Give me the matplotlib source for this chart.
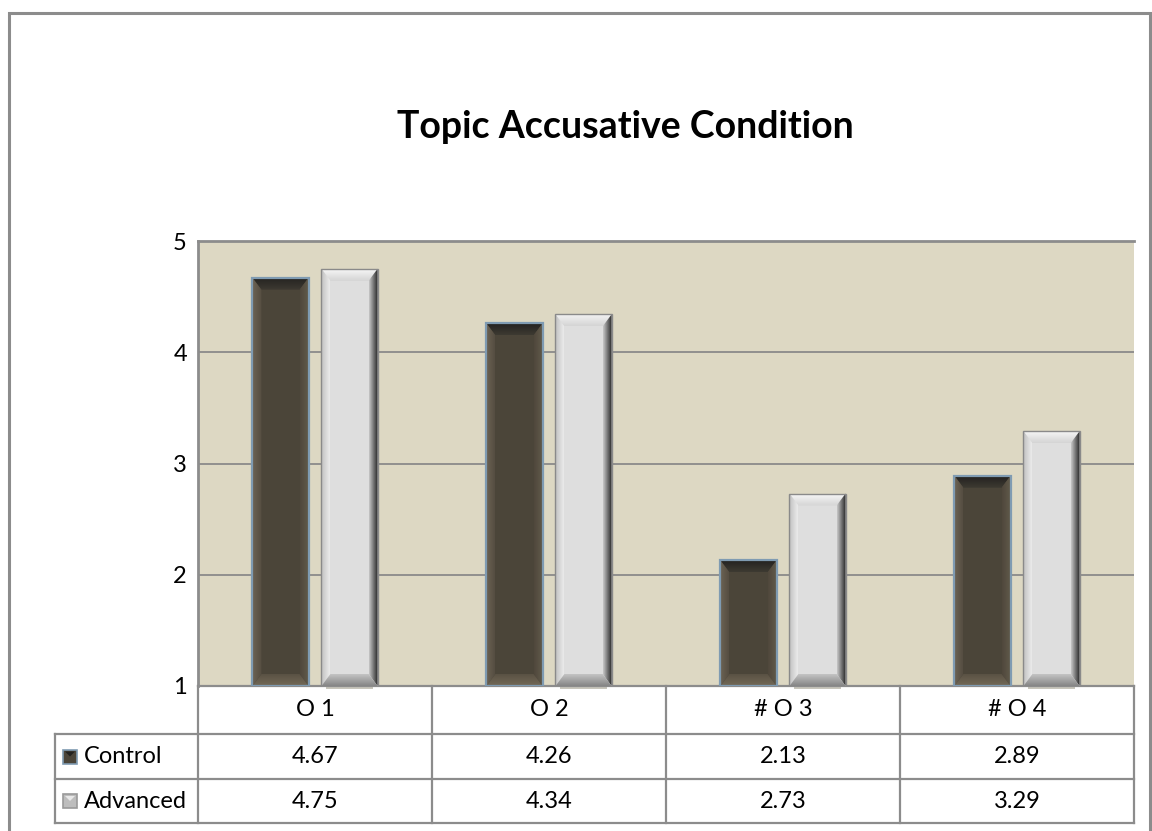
import numpy as np
import matplotlib
matplotlib.use("Agg")
import matplotlib.pyplot as plt
from matplotlib.patches import Polygon, Rectangle
from matplotlib.lines import Line2D
from matplotlib.colors import LinearSegmentedColormap

plt.rcParams['font.family'] = ['Lato', 'DejaVu Sans']

# данные
categories = ['O 1', 'O 2', '# O 3', '# O 4']
series = ['Control', 'Advanced']
control = [4.67, 4.26, 2.13, 2.89]
advanced = [4.75, 4.34, 2.73, 3.29]
yticks = [1, 2, 3, 4, 5]

W, H = 1152, 831
fs = 17
fig = plt.figure(figsize=(W / 100, H / 100), dpi=100)

# внешняя рамка
fig.patches.append(Rectangle((9 / W, -0.05), 1141 / W, 1.05 - 13 / H,
                             transform=fig.transFigure, fill=False,
                             edgecolor='#8c8c8c', linewidth=2.2))

fig.text(625 / W, 1 - 127 / H, 'Topic Accusative Condition', ha='center', va='center',
         fontsize=27, fontweight='bold')

left, right, top, bottom = 198, 1134, 241, 686
ax = fig.add_axes([left / W, 1 - bottom / H, (right - left) / W, (bottom - top) / H])
ax.set_facecolor('#ddd8c3')
ax.set_xlim(-0.5, 3.5)
ax.set_ylim(1, 5)

for sp in ['right', 'bottom']:
    ax.spines[sp].set_visible(False)
for sp in ['top', 'left']:
    ax.spines[sp].set_color('#8c8c8c')
    ax.spines[sp].set_linewidth(2)

ax.set_xticks([])
ax.set_yticks(yticks)
ax.set_yticklabels([str(t) for t in yticks], fontsize=fs)
ax.tick_params(axis='y', length=0, pad=8)
for t in yticks[1:-1]:
    ax.axhline(t, color='#8a8a8a', linewidth=1.3, zorder=1)

px_x = 4.0 / (right - left)
px_y = 4.0 / (bottom - top)
dx, dy = 9 * px_x, 12 * px_y


def grad(verts, c0, c1, horizontal, z):
    poly = Polygon(verts, closed=True, facecolor='none', edgecolor='none')
    ax.add_patch(poly)
    xs = [v[0] for v in verts]
    ys = [v[1] for v in verts]
    cmap = LinearSegmentedColormap.from_list('g', [c0, c1])
    arr = np.linspace(0, 1, 64)
    arr = arr.reshape(1, -1) if horizontal else arr.reshape(-1, 1)
    im = ax.imshow(arr, cmap=cmap, extent=(min(xs), max(xs), min(ys), max(ys)),
                   origin='lower', aspect='auto', interpolation='bilinear', zorder=z)
    im.set_clip_path(poly)


def bevel_bar(xc, val, w, style):
    x0, x1, y0, y1 = xc - w / 2, xc + w / 2, 1.0, val
    top_p = [(x0, y1), (x1, y1), (x1 - dx, y1 - dy), (x0 + dx, y1 - dy)]
    left_p = [(x0, y0), (x0, y1), (x0 + dx, y1 - dy), (x0 + dx, y0 + dy)]
    right_p = [(x1, y0), (x1, y1), (x1 - dx, y1 - dy), (x1 - dx, y0 + dy)]
    bot_p = [(x0, y0), (x1, y0), (x1 - dx, y0 + dy), (x0 + dx, y0 + dy)]
    if style == 'dark':
        ax.bar(xc, val - 1, w, bottom=1, color='#4b4539', edgecolor='none', zorder=3)
        grad(top_p, '#3e3a32', '#232220', False, 4)
        grad(left_p, '#6d6455', '#554d41', True, 4)
        grad(right_p, '#4f483c', '#625a4b', True, 4)
        grad(bot_p, '#736957', '#5a5244', False, 4)
        ax.add_patch(Rectangle((x0, y0), w, y1 - y0, fill=False,
                               edgecolor='#7f9bb2', linewidth=1.6, zorder=5))
    else:
        # тень под светлым столбцом
        ax.add_patch(Rectangle((x0 + dx / 2, y0 - 3 * px_y), w - dx, 3 * px_y,
                               facecolor='#c8c6bc', edgecolor='none', zorder=2,
                               clip_on=False))
        ax.bar(xc, val - 1, w, bottom=1, color='#dedede', edgecolor='none', zorder=3)
        grad(top_p, '#d4d4d4', '#f6f6f6', False, 4)
        grad(left_p, '#c0c0c0', '#ebebeb', True, 4)
        grad(right_p, '#c8c8c8', '#262626', True, 4)
        grad(bot_p, '#858585', '#c4c4c4', False, 4)
        ax.add_patch(Rectangle((x0, y0), w, y1 - y0, fill=False,
                               edgecolor='#8a8a8a', linewidth=1.0, zorder=5))


bw = 0.24
off = 0.1475
x = np.arange(len(categories))
for i in range(len(categories)):
    bevel_bar(x[i] - off, control[i], bw, 'dark')
    bevel_bar(x[i] + off, advanced[i], bw, 'light')

ax.set_xlim(-0.5, 3.5)
ax.set_ylim(1, 5)

# таблица данных под графиком
ah = bottom - top
def ty(py):
    return (bottom - py) / ah

def tx(px):
    return (px - left) / (right - left)

row_y = [686, 734, 779, 823]
lab_x = 55
lc = '#8c8c8c'
lw = 1.6
kw = dict(transform=ax.transAxes, clip_on=False, color=lc, linewidth=lw)
# горизонтальные линии
ax.add_line(Line2D([0, 1], [ty(row_y[0])] * 2, **kw))
for yy in row_y[1:]:
    ax.add_line(Line2D([tx(lab_x), 1], [ty(yy)] * 2, **kw))
# вертикальные линии
ax.add_line(Line2D([tx(lab_x)] * 2, [ty(row_y[1]), ty(row_y[3])], **kw))
for j in range(len(categories) + 1):
    ax.add_line(Line2D([j / len(categories)] * 2, [ty(row_y[0]), ty(row_y[3])], **kw))

for j, c in enumerate(categories):
    xm = (j + 0.5) / len(categories)
    ax.text(xm, ty((row_y[0] + row_y[1]) / 2), c, transform=ax.transAxes,
            ha='center', va='center', fontsize=fs)
    ax.text(xm, ty((row_y[1] + row_y[2]) / 2), f'{control[j]:.2f}', transform=ax.transAxes,
            ha='center', va='center', fontsize=fs)
    ax.text(xm, ty((row_y[2] + row_y[3]) / 2), f'{advanced[j]:.2f}', transform=ax.transAxes,
            ha='center', va='center', fontsize=fs)

# ключи легенды
key_styles = [('#4b4539', '#7f9bb2', '#232220'), ('#bdbdbd', '#9a9a9a', '#e8e8e8')]
for r, name in enumerate(series):
    ym = (row_y[r + 1] + row_y[r + 2]) / 2
    kx0, ks = 63, 14
    fc, ec, ic = key_styles[r]
    fig.patches.append(Rectangle((kx0 / W, 1 - (ym + ks / 2) / H), ks / W, ks / H,
                                 transform=fig.transFigure, facecolor=fc,
                                 edgecolor=ec, linewidth=1.2))
    fig.patches.append(Polygon([((kx0 + 2) / W, 1 - (ym - ks / 2 + 2) / H),
                                ((kx0 + ks - 2) / W, 1 - (ym - ks / 2 + 2) / H),
                                ((kx0 + ks / 2) / W, 1 - ym / H)],
                               transform=fig.transFigure, facecolor=ic, edgecolor='none'))
    fig.text(84 / W, 1 - ym / H, name, ha='left', va='center', fontsize=fs)

fig.savefig('out.png', dpi=100)
